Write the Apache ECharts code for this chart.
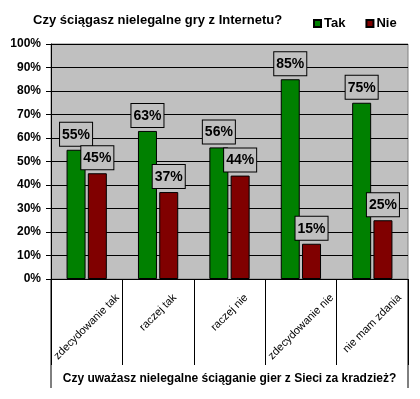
<!DOCTYPE html>
<html>
<head>
<meta charset="utf-8">
<script src="https://cdn.jsdelivr.net/npm/echarts@6/dist/echarts.min.js"></script>
<style>
  html, body { margin: 0; padding: 0; background: #fff; }
  #chart { width: 420px; height: 399px; }
</style>
</head>
<body>
<div id="chart"></div>
<script>
var categories = ['zdecydowanie tak', 'raczej tak', 'raczej nie', 'zdecydowanie nie', 'nie mam zdania'];
var tak_values = [55, 63, 56, 85, 75];
var nie_values = [45, 37, 44, 15, 25];
var y_ticks = [0, 10, 20, 30, 40, 50, 60, 70, 80, 90, 100];

var FONT = 'Arial, "Liberation Sans", sans-serif';

var myChart = echarts.init(document.getElementById('chart'), null, {renderer: 'canvas'});

function barLabel(){
  return {
    show: true,
    position: 'top',
    distance: 4,
    formatter: '{c}%',
    fontFamily: FONT,
    fontWeight: 'bold',
    fontSize: 14,
    color: '#000',
    backgroundColor: '#c0c0c0',
    borderColor: '#000',
    borderWidth: 1,
    padding: [5, 2, 4, 2]
  };
}

var option = {
  animation: false,
  backgroundColor: '#fff',
  title: {
    text: 'Czy ściągasz nielegalne gry z Internetu?',
    left: 28,
    top: 9,
    textStyle: {fontFamily: FONT, fontWeight: 'bold', fontSize: 13, color: '#000'}
  },
  legend: {
    data: ['Tak', 'Nie'],
    left: 308,
    top: 12,
    itemWidth: 7,
    itemHeight: 7,
    itemGap: 20,
    icon: 'rect',
    textStyle: {fontFamily: FONT, fontWeight: 'bold', fontSize: 13, color: '#000', padding: [0, 0, 0, -2]}
  },
  grid: {
    left: 51,
    right: 12,
    top: 44,
    bottom: 120,
    show: true,
    backgroundColor: '#c0c0c0',
    borderColor: '#808080',
    borderWidth: 1
  },
  xAxis: {
    type: 'category',
    data: categories,
    boundaryGap: true,
    axisLine: {lineStyle: {color: '#000', width: 1}},
    axisTick: {show: true, interval: 0, length: 86, lineStyle: {color: '#000'}},
    axisLabel: {show: false},
    name: 'Czy uważasz nielegalne ściąganie gier z Sieci za kradzież?',
    nameLocation: 'middle',
    nameGap: 94,
    nameTextStyle: {fontFamily: FONT, fontWeight: 'bold', fontSize: 12, color: '#000'}
  },
  yAxis: {
    type: 'value',
    min: y_ticks[0],
    max: y_ticks[y_ticks.length - 1],
    interval: 10,
    axisLine: {show: true, lineStyle: {color: '#000'}},
    axisTick: {show: true, length: 5, lineStyle: {color: '#000'}},
    axisLabel: {formatter: '{value}%', fontFamily: FONT, fontWeight: 'bold', fontSize: 12, color: '#000', margin: 10},
    splitLine: {show: true, lineStyle: {color: '#000', width: 1}}
  },
  series: [
    {
      name: 'Tak',
      type: 'bar',
      data: tak_values,
      barWidth: 19,
      barGap: '12%',
      itemStyle: {color: '#008000', borderColor: '#000', borderWidth: 1},
      label: barLabel()
    },
    {
      name: 'Nie',
      type: 'bar',
      data: nie_values,
      barWidth: 19,
      itemStyle: {color: '#800000', borderColor: '#000', borderWidth: 1},
      label: barLabel()
    }
  ]
};
myChart.setOption(option);

// category labels: rotated 45deg, centred in their band, top aligned under the axis
var ctx = document.createElement('canvas').getContext('2d');
ctx.font = '11px ' + FONT;
var axis_y = myChart.convertToPixel({yAxisIndex: 0}, 0);
var x0 = myChart.convertToPixel({xAxisIndex: 0}, 0);
var x1 = myChart.convertToPixel({xAxisIndex: 0}, 1);
var band = x1 - x0;
var elements = [];
for(var i=0;i<categories.length;i++){
  var cx = myChart.convertToPixel({xAxisIndex: 0}, i);
  var L = ctx.measureText(categories[i]).width;
  var cy = axis_y + 13 + 0.354 * (L + 11);
  elements.push({
    type: 'text',
    x: cx, y: cy,
    rotation: Math.PI / 4,
    style: {text: categories[i], font: '11px ' + FONT, fill: '#000', align: 'center', verticalAlign: 'middle'}
  });
}
// outer border lines around the axis title
var left_x = x0 - band / 2;
var right_x = myChart.convertToPixel({xAxisIndex: 0}, categories.length - 1) + band / 2;
elements.push({type: 'line', shape: {x1: left_x, y1: axis_y, x2: left_x, y2: axis_y + 109}, style: {stroke: '#000', lineWidth: 1}});
elements.push({type: 'line', shape: {x1: right_x, y1: axis_y, x2: right_x, y2: axis_y + 109}, style: {stroke: '#000', lineWidth: 1}});
myChart.setOption({graphic: {elements: elements}});
</script>
</body>
</html>
